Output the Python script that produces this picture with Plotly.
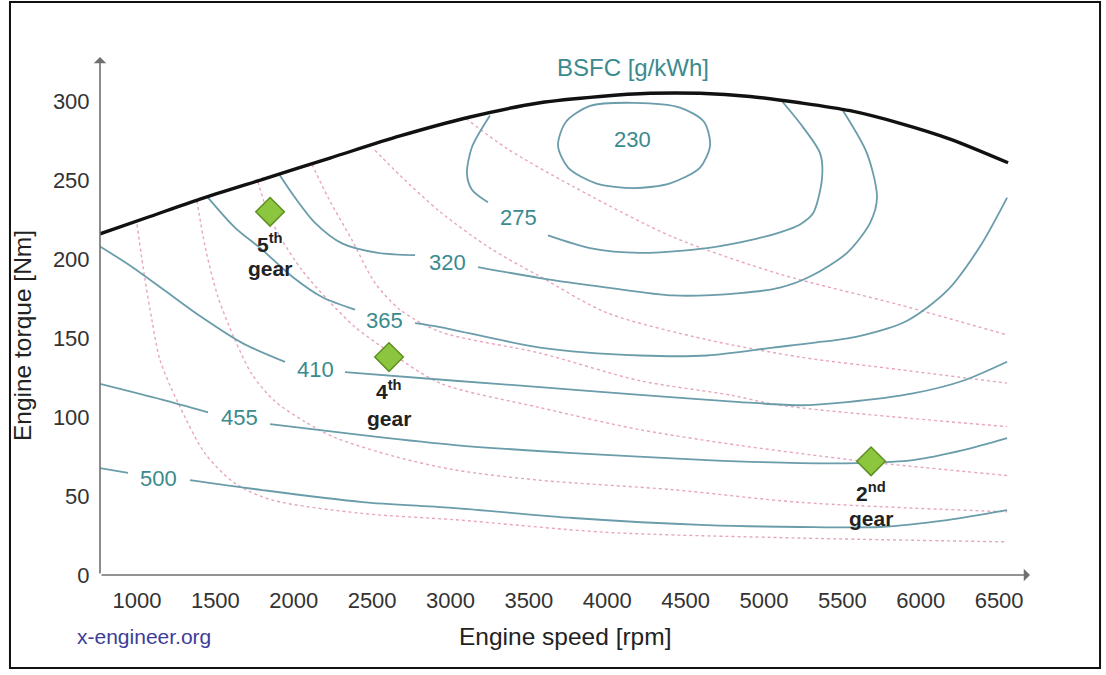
import plotly.graph_objects as go

# ---------------- data ----------------
x_ticks = [1000, 1500, 2000, 2500, 3000, 3500, 4000, 4500, 5000, 5500, 6000, 6500]
y_ticks = [0, 50, 100, 150, 200, 250, 300]

# full-load (max torque) curve
max_torque_rpm = [764, 1083, 1402, 1817, 2231, 2678, 3125, 3571, 3954, 4273, 4592, 4911, 5230, 5549, 5868, 6187, 6557]
max_torque_nm = [216, 227, 238, 251, 264, 278, 290, 299, 303, 305, 305, 303, 299, 294, 286, 276, 261]

# BSFC iso-lines [g/kWh] (segments split where the label sits)
bsfc_230_rpm = [3686, 3737, 3890, 4171, 4464, 4617, 4656, 4592, 4401, 4171, 3928, 3750, 3686]
bsfc_230_nm = [272, 287, 297, 299, 296, 287, 272, 258, 248, 245, 248, 258, 272]

bsfc_275a_rpm = [3252, 3137, 3105, 3137, 3239]
bsfc_275a_nm = [291, 271, 254, 244, 236]
bsfc_275b_rpm = [3622, 3890, 4209, 4637, 4956, 5102, 5230, 5313, 5370, 5358, 5230, 5115]
bsfc_275b_nm = [215, 207, 204, 207, 213, 217, 222, 229, 251, 267, 286, 300]

bsfc_320a_rpm = [1912, 2008, 2136, 2308, 2538, 2774]
bsfc_320a_nm = [253, 239, 223, 210, 204, 202.5]
bsfc_320b_rpm = [3176, 3571, 3999, 4420, 4847, 5102, 5294, 5530, 5677, 5721, 5657, 5504]
bsfc_320b_nm = [195, 188, 182, 177, 178.5, 182, 189, 204, 223, 239, 267, 294]

bsfc_365a_rpm = [1453, 1625, 1798, 1989, 2180, 2391]
bsfc_365a_nm = [239, 220, 206, 189, 176, 168]
bsfc_365b_rpm = [2774, 2933, 3571, 4209, 4637, 5058, 5313, 5594, 5913, 6168, 6378, 6551]
bsfc_365b_nm = [159.5, 157, 144, 139, 139, 144, 147, 151, 161, 180, 208, 239]

bsfc_410a_rpm = [764, 955, 1179, 1402, 1670, 1944]
bsfc_410a_nm = [208, 196, 180, 164, 147, 135]
bsfc_410b_rpm = [2327, 3029, 3571, 4209, 4847, 5230, 5530, 5951, 6270, 6551]
bsfc_410b_nm = [128.5, 123, 119, 114, 109.5, 107.5, 109.5, 115, 123, 135]

bsfc_455a_rpm = [764, 1160, 1453]
bsfc_455a_nm = [121, 111, 103]
bsfc_455b_rpm = [1849, 2436, 3029, 3782, 4637, 5230, 5594, 5951, 6270, 6551]
bsfc_455b_nm = [95.6, 88.6, 82.3, 77.2, 72.8, 70.9, 70.9, 72.8, 79.1, 86.7]

bsfc_500a_rpm = [764, 943]
bsfc_500a_nm = [67.7, 64.6]
bsfc_500b_rpm = [1338, 1798, 2436, 3029, 3782, 4637, 5230, 5740, 6168, 6551]
bsfc_500b_nm = [60.1, 53.8, 46.2, 42.4, 36.1, 31.6, 30.4, 30.4, 34.8, 41.1]

# BSFC label positions
bsfc_levels = ["230", "275", "320", "365", "410", "455", "500"]
bsfc_label_rpm = [4164, 3437, 2978, 2582, 2136, 1657, 1134]
bsfc_label_nm = [276, 226.6, 198, 161.4, 130.4, 100, 61.4]

# constant power lines (pink dotted)
pow1_rpm = [1000, 1051, 1096, 1147, 1262, 1434, 1625, 1861, 2436, 3029, 3999, 5230, 6551]
pow1_nm = [222, 187, 161, 136, 109, 77, 58, 47.5, 39, 35, 27, 23.4, 21]
pow2_rpm = [1383, 1434, 1517, 1625, 1734, 1880, 2072, 2263, 2646, 3029, 3571, 4420, 5230, 6551]
pow2_nm = [237, 208, 176, 149, 127, 110, 97, 87, 75, 66.5, 60, 54, 46, 40]
pow3_rpm = [1772, 1836, 1925, 2053, 2219, 2391, 2614, 2933, 3571, 4209, 4847, 5230, 5677, 6551]
pow3_nm = [249, 229, 212, 193, 174, 157, 141, 121.5, 106, 92, 82, 77, 71.5, 63]
pow4_rpm = [2117, 2219, 2372, 2518, 2678, 2933, 3571, 4209, 4783, 5102, 6551]
pow4_nm = [260, 239, 212, 185, 168, 154, 140.5, 123, 114, 107.5, 94]
pow5_rpm = [2518, 2678, 2933, 3252, 3571, 3999, 4637, 5230, 5868, 6551]
pow5_nm = [269, 253, 230, 207, 189, 166, 149, 138, 130, 121.5]
pow6_rpm = [3099, 3361, 3782, 4420, 5102, 5868, 6551]
pow6_nm = [289, 270, 246, 214, 190.5, 171, 152]

# gear operating points
gear_rpm = [1849, 2608, 5683]
gear_nm = [230, 138, 72]
gear_num = ["5<sup>th</sup>", "4<sup>th</sup>", "2<sup>nd</sup>"]
gear_num_nm = [210, 117, 52.5]
gear_word_nm = [194, 99.4, 36]

# ---------------- styling ----------------
FONT = "Liberation Sans, Arial, Helvetica, sans-serif"
TEAL_LINE = "#6a9caa"
TEAL_TEXT = "#3b8a8e"
PINK = "#e8a5c0"

fig = go.Figure()


def add_line(x, y, color, width, dash=None):
    fig.add_trace(go.Scatter(
        x=x, y=y, mode="lines",
        line=dict(color=color, width=width, dash=dash, shape="spline", smoothing=0.8),
        hoverinfo="skip", showlegend=False))


for px_, py_ in [(pow1_rpm, pow1_nm), (pow2_rpm, pow2_nm), (pow3_rpm, pow3_nm),
                 (pow4_rpm, pow4_nm), (pow5_rpm, pow5_nm), (pow6_rpm, pow6_nm)]:
    add_line(px_, py_, PINK, 1.4, "dot")

for cx, cy in [(bsfc_230_rpm, bsfc_230_nm),
               (bsfc_275a_rpm, bsfc_275a_nm), (bsfc_275b_rpm, bsfc_275b_nm),
               (bsfc_320a_rpm, bsfc_320a_nm), (bsfc_320b_rpm, bsfc_320b_nm),
               (bsfc_365a_rpm, bsfc_365a_nm), (bsfc_365b_rpm, bsfc_365b_nm),
               (bsfc_410a_rpm, bsfc_410a_nm), (bsfc_410b_rpm, bsfc_410b_nm),
               (bsfc_455a_rpm, bsfc_455a_nm), (bsfc_455b_rpm, bsfc_455b_nm),
               (bsfc_500a_rpm, bsfc_500a_nm), (bsfc_500b_rpm, bsfc_500b_nm)]:
    add_line(cx, cy, TEAL_LINE, 1.8)

add_line(max_torque_rpm, max_torque_nm, "#111111", 3.4)

fig.add_trace(go.Scatter(
    x=gear_rpm, y=gear_nm, mode="markers",
    marker=dict(symbol="diamond", size=22, color="#8cc63e",
                line=dict(color="#5e8f22", width=1.5)),
    hoverinfo="skip", showlegend=False))

annotations = []
for lvl, lx, ly in zip(bsfc_levels, bsfc_label_rpm, bsfc_label_nm):
    annotations.append(dict(x=lx, y=ly, xref="x", yref="y", text=lvl, showarrow=False,
                            xanchor="center", yanchor="middle",
                            font=dict(family=FONT, size=22, color=TEAL_TEXT)))

for gx, gtxt, gy1, gy2 in zip(gear_rpm, gear_num, gear_num_nm, gear_word_nm):
    annotations.append(dict(x=gx, y=gy1, xref="x", yref="y", text="<b>%s</b>" % gtxt,
                            showarrow=False, xanchor="center", yanchor="middle",
                            font=dict(family=FONT, size=21, color="#222222")))
    annotations.append(dict(x=gx, y=gy2, xref="x", yref="y", text="<b>gear</b>",
                            showarrow=False, xanchor="center", yanchor="middle",
                            font=dict(family=FONT, size=21, color="#222222")))

# axis arrows
annotations.append(dict(x=6697, y=0, ax=764, ay=0, xref="x", yref="y", axref="x", ayref="y",
                        text="", showarrow=True, arrowhead=1, arrowsize=1.3, arrowwidth=1.6,
                        arrowcolor="#707070"))
annotations.append(dict(x=764, y=328, ax=764, ay=0, xref="x", yref="y", axref="x", ayref="y",
                        text="", showarrow=True, arrowhead=1, arrowsize=1.3, arrowwidth=1.6,
                        arrowcolor="#707070"))

# titles and texts
annotations.append(dict(x=0.573, y=0.979, xref="paper", yref="paper", text="BSFC [g/kWh]",
                        showarrow=False, xanchor="center", yanchor="middle",
                        font=dict(family=FONT, size=24, color=TEAL_TEXT)))
annotations.append(dict(x=0.5, y=-0.118, xref="paper", yref="paper", text="Engine speed [rpm]",
                        showarrow=False, xanchor="center", yanchor="middle",
                        font=dict(family=FONT, size=24.5, color="#222222")))
annotations.append(dict(x=-0.084, y=0.463, xref="paper", yref="paper", text="Engine torque [Nm]",
                        textangle=-90, showarrow=False, xanchor="center", yanchor="middle",
                        font=dict(family=FONT, size=24.5, color="#222222")))
annotations.append(dict(x=0.047, y=-0.118, xref="paper", yref="paper", text="x-engineer.org",
                        showarrow=False, xanchor="center", yanchor="middle",
                        font=dict(family=FONT, size=21, color="#3d3d99")))

fig.update_layout(
    width=1106, height=675,
    margin=dict(l=100, r=76, t=57, b=100),
    paper_bgcolor="white", plot_bgcolor="white",
    showlegend=False,
    annotations=annotations,
    shapes=[dict(type="rect", xref="paper", yref="paper",
                 x0=-0.0968, x1=1.0753, y0=-0.1795, y1=1.1062,
                 line=dict(color="#111111", width=2))],
    xaxis=dict(range=[764, 6697], tickvals=x_ticks, showgrid=False, zeroline=False,
               showline=False, ticks="outside", ticklen=6, tickcolor="rgba(0,0,0,0)",
               tickfont=dict(family=FONT, size=22, color="#333333")),
    yaxis=dict(range=[0, 328], tickvals=y_ticks, showgrid=False, zeroline=False,
               showline=False, ticks="outside", ticklen=5, tickcolor="rgba(0,0,0,0)",
               tickfont=dict(family=FONT, size=22, color="#333333")),
)

fig.write_html("out.html", config={"displayModeBar": False},
               post_script="document.body.style.margin='0';")
